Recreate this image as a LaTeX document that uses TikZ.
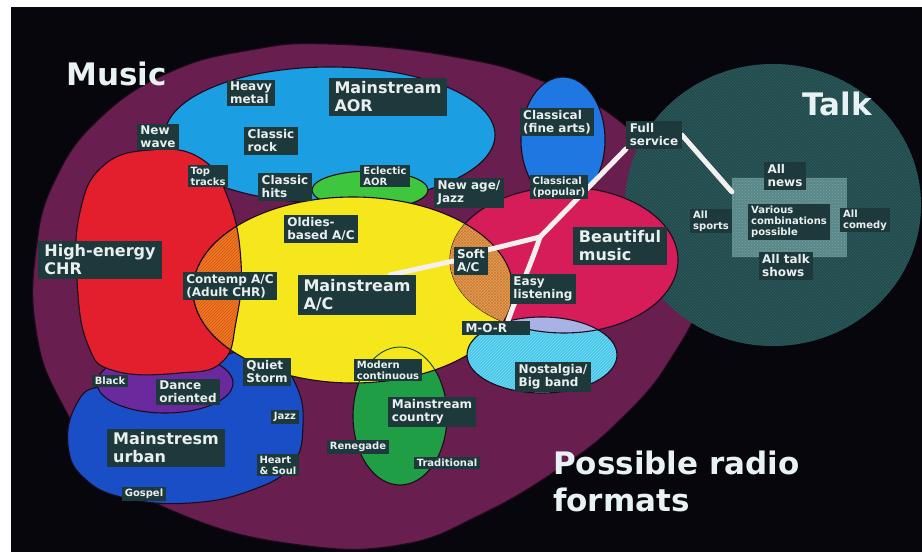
\documentclass[tikz,border=0pt]{standalone}
\usepackage{fontspec}
\setmainfont{DejaVu Sans}
\usetikzlibrary{patterns}
\definecolor{cBlack}{HTML}{07060C}
\definecolor{cMaroon}{HTML}{681E4E}
\definecolor{cTeal}{HTML}{22494C}
\definecolor{cTealL}{HTML}{2F5E61}
\definecolor{cClass}{HTML}{1F78E2}
\definecolor{cAOR}{HTML}{1C9EE2}
\definecolor{cEcl}{HTML}{3EC63E}
\definecolor{cUrban}{HTML}{1A4EC6}
\definecolor{cPurple}{HTML}{6A2A9E}
\definecolor{cRed}{HTML}{E41F2D}
\definecolor{cCountry}{HTML}{1F9E45}
\definecolor{cCountryD}{HTML}{0E4A20}
\definecolor{cYellow}{HTML}{F6E71D}
\definecolor{cOrange}{HTML}{F07A1F}
\definecolor{cOrangeD}{HTML}{D0541A}
\definecolor{cPink}{HTML}{D61D5A}
\definecolor{cSoft}{HTML}{EDA050}
\definecolor{cSoftD}{HTML}{C47A3A}
\definecolor{cCyan}{HTML}{46C7EA}
\definecolor{cCyanL}{HTML}{80DCF4}
\definecolor{cLav}{HTML}{A8B2E4}
\definecolor{cFrame}{HTML}{5A8788}
\definecolor{cFrameL}{HTML}{7AA5A6}
\definecolor{cLab}{HTML}{1E393B}
\definecolor{cLabText}{HTML}{E9EFEF}
\definecolor{cBig}{HTML}{E8F2F2}
\definecolor{cLink}{HTML}{F4F0EE}
\definecolor{cEdge}{HTML}{1C0B1A}
\pgfdeclarelayer{shapes}
\pgfdeclarelayer{links}
\pgfsetlayers{shapes,links,main}
\begin{document}
\begin{tikzpicture}[x=1pt,y=-1pt,
  edge/.style={draw=cEdge, line width=1.1pt},
  lab/.style={fill=cLab, text=cLabText, inner xsep=3.5pt, inner ysep=2.5pt, align=left, font=\bfseries\fontsize{12}{13}\selectfont},
  labS/.style={lab, inner xsep=3pt, inner ysep=2pt, font=\bfseries\fontsize{10}{11}\selectfont},
  labL/.style={lab, inner xsep=6pt, inner ysep=4pt, font=\bfseries\fontsize{16}{18}\selectfont},
  bigtxt/.style={text=cBig, inner sep=0pt, align=left, font=\bfseries\fontsize{31}{37}\selectfont},
  link/.style={draw=cLink, line width=5pt, line cap=round},
]
\useasboundingbox (0,0) rectangle (922,552);

\def\musicpath{plot[smooth cycle, tension=0.75] coordinates {(330,44) (450,56) (545,82) (630,130) (685,210) (700,290) (670,360) (620,420) (560,468) (480,515) (400,545) (300,545) (190,518) (110,470) (60,400) (36,330) (36,250) (55,180) (100,118) (170,72) (250,50)}}
\def\redpath{plot[smooth cycle, tension=0.75] coordinates {(150,150) (200,158) (228,198) (241,262) (236,322) (222,362) (180,373) (115,371) (88,345) (77,280) (80,212) (103,166)}}
\def\urbanpath{plot[smooth cycle, tension=0.75] coordinates {(68,445) (76,405) (100,387) (150,395) (200,378) (232,353) (272,357) (296,385) (303,425) (292,465) (252,490) (190,503) (125,498) (84,478)}}
\def\talkpath{(773,205) ellipse [x radius=148, y radius=141]}
\def\classpath{(563,140) ellipse [x radius=42, y radius=63]}
\def\aorpath{(330,135) ellipse [x radius=165, y radius=68]}
\def\eclpath{(370,190) ellipse [x radius=58, y radius=19]}
\def\dancepath{(165,383) ellipse [x radius=68, y radius=30]}
\def\countrypath{(400,416) ellipse [x radius=47, y radius=69]}
\def\yellowpath{(353,290) ellipse [x radius=160, y radius=93]}
\def\pinkpath{(564,260) ellipse [x radius=114, y radius=73]}
\def\nostpath{(542,355) ellipse [x radius=75, y radius=38]}

\begin{pgfonlayer}{shapes}
\fill[white] (0,0) rectangle (922,552);
\fill[cBlack] (11,7) rectangle (922,552);
\fill[cMaroon] \musicpath;
\draw[edge] \musicpath;
\fill[cTeal] \talkpath;
\fill[pattern=north west lines, pattern color=cTealL] \talkpath;
\fill[cClass] \classpath; \draw[edge] \classpath;
\fill[cAOR] \aorpath; \draw[edge] \aorpath;
\fill[cEcl] \eclpath; \draw[edge] \eclpath;
\fill[cUrban] \urbanpath; \draw[edge] \urbanpath;
\fill[cPurple] \dancepath; \draw[edge] \dancepath;
\fill[cRed] \redpath; \draw[edge] \redpath;
\fill[cCountry] \countrypath; \draw[edge] \countrypath;
\fill[cYellow] \yellowpath; \draw[edge] \yellowpath;
\begin{scope}
  \clip \yellowpath;
  \draw[draw=cCountryD, line width=0.9pt] \countrypath;
\end{scope}
\begin{scope}
  \clip \redpath;
  \fill[cOrange] \yellowpath;
  \fill[pattern=north east lines, pattern color=cOrangeD] \yellowpath;
  \draw[edge] \yellowpath;
\end{scope}
\begin{scope}
  \clip \yellowpath;
  \draw[edge] \redpath;
\end{scope}
\fill[cPink] \pinkpath; \draw[edge] \pinkpath;
\begin{scope}
  \clip \pinkpath;
  \fill[cSoft] \yellowpath;
  \fill[pattern=crosshatch, pattern color=cSoftD] \yellowpath;
  \draw[edge] \yellowpath;
\end{scope}
\fill[cCyan] \nostpath;
\fill[pattern=north east lines, pattern color=cCyanL] \nostpath;
\begin{scope}
  \clip \pinkpath;
  \fill[cLav] \nostpath;
\end{scope}
\draw[edge] \nostpath;
\begin{scope}
  \clip \nostpath;
  \draw[edge] \pinkpath;
\end{scope}
\node[fill=cFrame, minimum width=115pt, minimum height=79pt, inner sep=0pt] (frame) at (789.5,217.5) {};
\fill[pattern=crosshatch dots, pattern color=cFrameL] (frame.north west) rectangle (frame.south east);
\end{pgfonlayer}

% labels
\node[lab] (heavy) at (251,93) {Heavy\\metal};
\node[labL] (aor) at (388,97) {Mainstream\\AOR};
\node[lab] (newwave) at (158,137) {New\\wave};
\node[lab] (crock) at (271,141) {Classic\\rock};
\node[labS] (toptr) at (208,176) {Top\\tracks};
\node[lab] (chits) at (285,187) {Classic\\hits};
\node[labS] (eclectic) at (385,176) {Eclectic\\AOR};
\node[lab] (newage) at (469,193) {New age/\\Jazz};
\node[lab] (clfine) at (557,122) {Classical\\(fine arts)};
\node[labS] (clpop) at (559,187) {Classical\\(popular)};
\node[lab] (fs) at (654,135) {Full\\service};
\node[lab] (news) at (785,176) {All\\news};
\node[labS] (sports) at (711,221) {All\\sports};
\node[labS] (various) at (789,222) {Various\\combinations\\possible};
\node[labS] (comedy) at (865,220) {All\\comedy};
\node[lab] (shows) at (786,266) {All talk\\shows};
\node[labL] (hechr) at (100,260) {High-energy\\CHR};
\node[lab] (oldies) at (321,229) {Oldies-\\based A/C};
\node[lab] (contemp) at (230,286) {Contemp A/C\\(Adult CHR)};
\node[labL] (mac) at (357,295) {Mainstream\\A/C};
\node[lab] (soft) at (471,261) {Soft\\A/C};
\node[labL] (beaut) at (620,246) {Beautiful\\music};
\node[lab] (easy) at (543,289) {Easy\\listening};
\node[lab, text width=61pt] (mor) at (496,328) {M-O-R};
\node[lab] (nost) at (553,377) {Nostalgia/\\Big band};
\node[labS] (black) at (110,381) {Black};
\node[lab] (dance) at (188,392) {Dance\\oriented};
\node[lab] (quiet) at (267,372) {Quiet\\Storm};
\node[labS] (jazz) at (285,417) {Jazz};
\node[labL] (urban) at (166,448) {Mainstresm\\urban};
\node[labS] (heart) at (278,465) {Heart\\\& Soul};
\node[labS] (gospel) at (144,494) {Gospel};
\node[labS] (modern) at (388,370) {Modern\\continuous};
\node[lab] (country) at (432,412) {Mainstream\\country};
\node[labS] (renegade) at (358,447) {Renegade};
\node[labS] (trad) at (447,463) {Traditional};

\node[bigtxt, anchor=west] (music) at (66,73.5) {Music};
\node[bigtxt] (talk) at (837,104) {Talk};
\node[bigtxt, anchor=north west] (prf) at (553,451) {Possible radio\\formats};

\coordinate (J) at (540,237);
\begin{pgfonlayer}{links}
\draw[link] (fs.east) -- ([yshift=-14pt]frame.north west);
\draw[link] (fs.south west) -- (J);
\draw[link] (J) -- ([yshift=-3pt]soft.north east);
\draw[link] (soft.west) -- ([xshift=33pt]mac.north);
\draw[link] (J) .. controls (532,262) and (515,300) .. ([xshift=12pt]mor.north);
\end{pgfonlayer}
\end{tikzpicture}
\end{document}
